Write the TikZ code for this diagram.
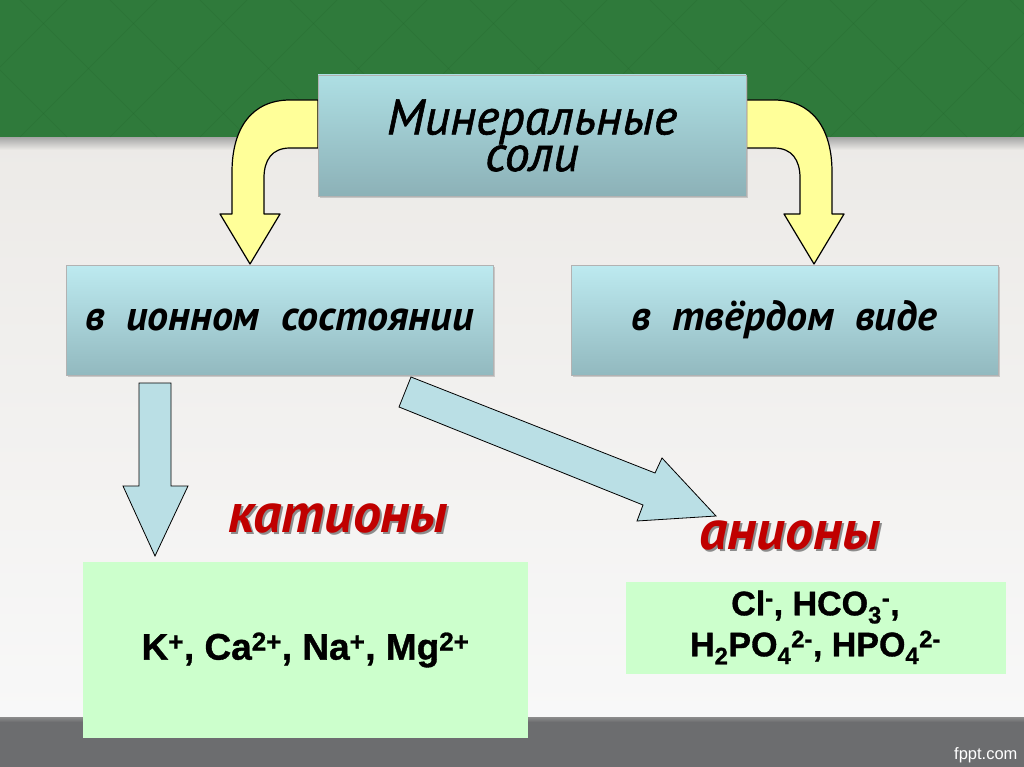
\documentclass[tikz,border=0pt]{standalone}
\usepackage{fontspec}
\usepackage{tikz}
\usetikzlibrary{calc,shadows}
\newfontfamily\handfont{PT Sans}
\newfontfamily\handmed[FakeBold=1.2]{PT Sans}
\newfontfamily\chemfont[BoldFeatures={FakeBold=1}]{Liberation Sans}
\definecolor{bandgreen}{HTML}{2F7A3B}
\definecolor{bandline}{HTML}{25672F}
\definecolor{paperTop}{HTML}{ECEAE7}
\definecolor{paperBot}{HTML}{F8F8F8}
\definecolor{stripgray}{HTML}{6C6D6F}
\definecolor{titleTop}{HTML}{AEDFE4}
\definecolor{titleBot}{HTML}{8CB1B7}
\definecolor{blueTop}{HTML}{BDEAF0}
\definecolor{blueBot}{HTML}{92B9BF}
\definecolor{arrowblue}{HTML}{BADFE5}
\definecolor{arrowyellow}{HTML}{FFFF99}
\definecolor{mint}{HTML}{CCFFCC}
\definecolor{ionred}{HTML}{C00000}

\begin{document}
\begin{tikzpicture}[x=1pt,y=-1pt]
\useasboundingbox (0,0) rectangle (1024,767);
\fill[top color=paperTop,bottom color=paperBot] (0,137) rectangle (1024,717);
\fill[top color=black!35,bottom color=paperTop] (0,137) rectangle (1024,150);
\fill[bandgreen] (0,0) rectangle (1024,137);
\foreach \i in {-160,-70,...,1100} {
  \draw[bandline,opacity=.35] (\i,0) -- (\i+137,137);
  \draw[bandline,opacity=.35] (\i+137,0) -- (\i,137);
}
\fill[top color=black!45,bottom color=stripgray] (0,717) rectangle (1024,722);
\fill[stripgray] (0,722) rectangle (1024,767);

\tikzstyle{topbox}=[draw=black!30,rectangle,top color=titleTop,bottom color=titleBot,minimum width=428pt,minimum height=121pt,drop shadow={opacity=.35},align=center,font=\handmed\itshape\fontsize{50}{35}\selectfont]
\tikzstyle{bluebox}=[draw=black!30,rectangle,top color=blueTop,bottom color=blueBot,minimum width=427pt,minimum height=110pt,drop shadow={opacity=.35},font=\handfont\bfseries\itshape\fontsize{42}{46}\selectfont]
\tikzstyle{greenbox}=[rectangle,fill=mint,font=\chemfont\bfseries]
\tikzstyle{redlabel}=[text=ionred,font=\handfont\bfseries\itshape\fontsize{56}{60}\selectfont]
\tikzstyle{redshadow}=[text=black!45,font=\handfont\bfseries\itshape\fontsize{56}{60}\selectfont]
\tikzstyle{yellowarrow}=[draw=black,line width=1.2pt,fill=arrowyellow,line join=round]
\tikzstyle{bluearrow}=[draw=black,line width=.8pt,fill=arrowblue]

\draw[yellowarrow] (318,100) -- (290,100) .. controls (252,100) and (232,128) .. (232,172) -- (232,214) -- (220,214) -- (250,264) -- (280,214) -- (264,214) -- (264,178) .. controls (264,160) and (272,148) .. (290,148) -- (318,148) -- cycle;
\begin{scope}[xshift=1064pt,xscale=-1]
\draw[yellowarrow] (318,100) -- (290,100) .. controls (252,100) and (232,128) .. (232,172) -- (232,214) -- (220,214) -- (250,264) -- (280,214) -- (264,214) -- (264,178) .. controls (264,160) and (272,148) .. (290,148) -- (318,148) -- cycle;
\end{scope}

\node[topbox] (salts) at (532,135.5) {Минеральные\\соли};
\node[bluebox] (ionic) at (279.5,320) {в\ \ ионном\ \ состоянии};
\node[bluebox] (solid) at (784.5,320) {в\ \ твёрдом\ \ виде};

\draw[bluearrow] (139,383) -- (171,383) -- (171,486) -- (188,486) -- (155,556) -- (123,486) -- (139,486) -- cycle;
\draw[bluearrow] (411,377) -- (655,473) -- (662,458) -- (716,516) -- (637,521) -- (643,505) -- (399,407) -- cycle;

\node[redshadow] (catshadow) at (340,520) {катионы};
\node[redlabel] (catlabel) at (338,518) {катионы};
\node[redshadow] (anshadow) at (792,537) {анионы};
\node[redlabel] (anlabel) at (790,535) {анионы};

\node[greenbox,minimum width=445pt,minimum height=176pt,font=\chemfont\bfseries\fontsize{37}{40}\selectfont] (cations) at (305.5,650) {K\textsuperscript{+}, Ca\textsuperscript{2+}, Na\textsuperscript{+}, Mg\textsuperscript{2+}};
\node[greenbox,minimum width=380pt,minimum height=92pt,align=center,font=\chemfont\bfseries\fontsize{34}{41}\selectfont] (anions) at (815.5,627.5) {Cl\textsuperscript{-}, HCO\textsubscript{3}\textsuperscript{-},\\H\textsubscript{2}PO\textsubscript{4}\textsuperscript{2-}, HPO\textsubscript{4}\textsuperscript{2-}};

\node[text=white,font=\chemfont\fontsize{16.5}{18}\selectfont,anchor=east] (site) at (1021,755) {fppt.com};
\end{tikzpicture}
\end{document}
